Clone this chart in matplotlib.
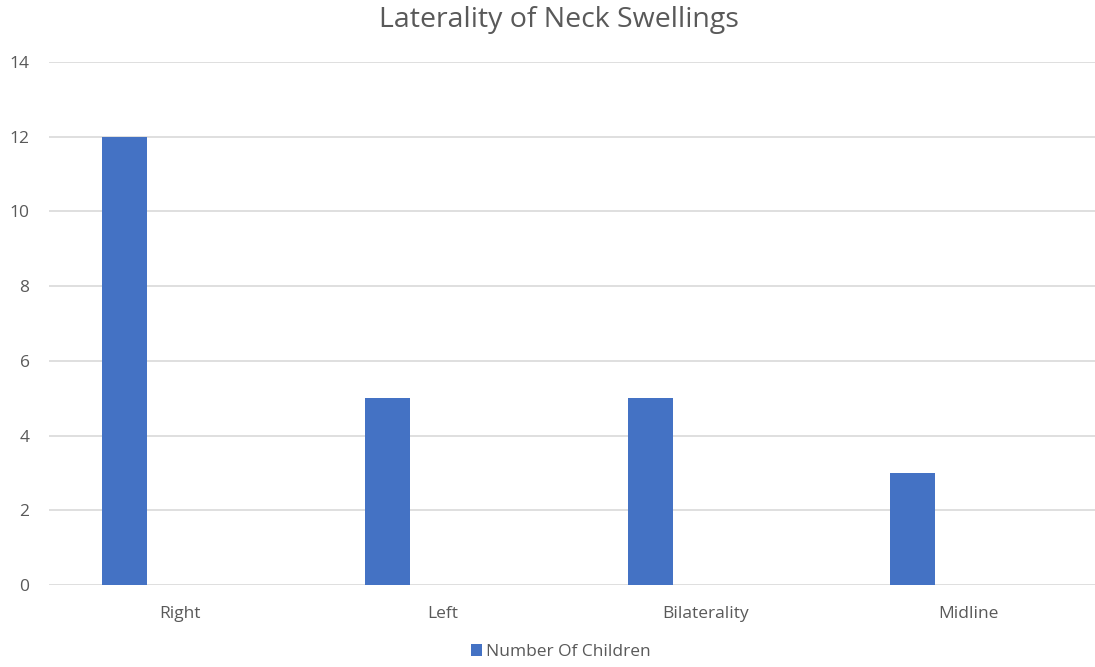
import matplotlib

matplotlib.use("Agg")

import matplotlib.pyplot as plt
import numpy as np

categories = ["Right", "Left", "Bilaterality", "Midline"]
children = [12, 5, 5, 3]
y_ticks = [0, 2, 4, 6, 8, 10, 12, 14]

bar_color = "#4472C4"
text_color = "#595959"
grid_color = "#D9D9D9"

plt.rcParams["font.family"] = ["Open Sans", "DejaVu Sans"]

fig = plt.figure(figsize=(10.95, 6.67), dpi=100)
# plot area runs a little past the right edge of the figure
ax = fig.add_axes([49 / 1095, 82 / 667, 1051 / 1095, (585 - 62) / 667])

x = np.arange(len(categories))
# bars sit left of the category centre, like an Excel clustered column
ax.bar(x - 0.2125, children, width=0.171, color=bar_color, label="Number Of Children", zorder=3)

ax.set_xlim(-0.5, len(categories) - 0.5)
ax.set_ylim(0, 14)
ax.set_yticks(y_ticks)
ax.set_xticks(x)
ax.set_xticklabels(categories)
ax.grid(axis="y", color=grid_color, linewidth=1.2, zorder=0)
ax.set_axisbelow(True)
for s in ax.spines.values():
    s.set_visible(False)
ax.tick_params(axis="both", length=0, colors=text_color, labelsize=12.5)
ax.tick_params(axis="y", pad=14)
ax.tick_params(axis="x", pad=15)

fig.text(559 / 1095, 1 - 20 / 667, "Laterality of Neck Swellings", ha="center", va="center",
         fontsize=20.5, color=text_color)

leg = ax.legend(loc="center", bbox_to_anchor=((561 - 49) / 1051, -(652 - 585) / 523), frameon=False,
                fontsize=12.5, handlelength=0.65, handleheight=0.65, handletextpad=0.25)
for t in leg.get_texts():
    t.set_color(text_color)

plt.savefig("out.png", dpi=100)
plt.close()
